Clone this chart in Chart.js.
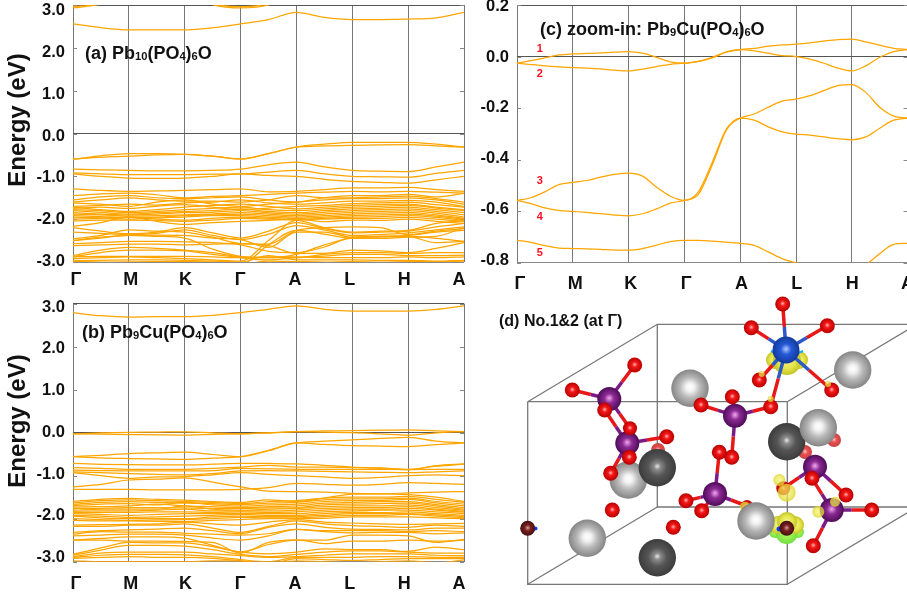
<!DOCTYPE html>
<html>
<head>
<meta charset="utf-8">
<title>Band structures of Pb10(PO4)6O and Pb9Cu(PO4)6O</title>
<script src="https://cdn.jsdelivr.net/npm/chart.js@4"></script>
<style>
  html, body { margin: 0; background: #fff; overflow: hidden; width: 907px; height: 599px; }
  canvas { position: absolute; }
</style>
</head>
<body>
<canvas id="panelA" width="470" height="295" style="left:0;top:0"></canvas>
<canvas id="panelB" width="470" height="304" style="left:0;top:295px"></canvas>
<canvas id="panelC" width="440" height="295" style="left:475px;top:0"></canvas>
<canvas id="panelD" width="417" height="304" style="left:490px;top:295px"></canvas>
<script>
// k-path
const pathLabels = ['Γ', 'M', 'K', 'Γ', 'A', 'L', 'H', 'A'];
const pathTicks = [0, 1, 2, 3, 4, 5, 6, 7];
const kHalf = [0, 0.5, 1, 1.5, 2, 2.5, 3, 3.5, 4, 4.5, 5, 5.5, 6, 6.5, 7];
const kQuarter = [0, 0.25, 0.5, 0.75, 1, 1.25, 1.5, 1.75, 2, 2.25, 2.5, 2.75, 3, 3.25, 3.5, 3.75, 4,
  4.25, 4.5, 4.75, 5, 5.25, 5.5, 5.75, 6, 6.25, 6.5, 6.75, 7];
const energyTicks = [-3, -2, -1, 0, 1, 2, 3];
const zoomTicks = [-0.8, -0.6, -0.4, -0.2, 0, 0.2];

// (a) Pb10(PO4)6O, read at kHalf
const bandsA = [
  [2.56, 2.47, 2.42, 2.42, 2.42, 2.47, 2.56, 2.66, 2.83, 2.71, 2.66, 2.66, 2.67, 2.70, 2.83],
  [2.93, 3.02, 3.2, 3.3, 3.3, 3.01, 2.93, 3.0, 3.3, 3.3, 3.3, 3.3, 3.3, 3.3, 3.3],
  [2.96, 3.03, 3.25, 3.3, 3.3, 3.03, 2.96, 3.03, 3.3, 3.3, 3.3, 3.3, 3.3, 3.3, 3.3],
  [-0.60, -0.52, -0.47, -0.47, -0.486, -0.53, -0.595, -0.47, -0.315, -0.25, -0.205, -0.205, -0.205, -0.25, -0.315],
  [-0.60, -0.55, -0.53, -0.50, -0.49, -0.53, -0.595, -0.47, -0.32, -0.29, -0.275, -0.265, -0.26, -0.29, -0.32],
  [-0.83, -0.85, -0.86, -0.87, -0.87, -0.86, -0.83, -0.73, -0.67, -0.78, -0.86, -0.88, -0.89, -0.78, -0.67],
  [-0.92, -0.94, -0.96, -0.96, -0.96, -0.95, -0.945, -0.90, -0.86, -0.94, -1.0, -1.01, -1.02, -0.93, -0.86],
  [-0.945, -1.0, -1.04, -1.05, -1.04, -1.0, -0.945, -0.98, -1.0, -1.07, -1.12, -1.14, -1.16, -1.08, -1.0],
  [-1.29, -1.33, -1.35, -1.34, -1.33, -1.31, -1.29, -1.36, -1.35, -1.31, -1.27, -1.27, -1.26, -1.31, -1.35],
  [-1.45, -1.41, -1.39, -1.43, -1.50, -1.47, -1.45, -1.42, -1.39, -1.37, -1.35, -1.36, -1.35, -1.37, -1.39],
  [-1.55, -1.48, -1.45, -1.50, -1.52, -1.50, -1.48, -1.55, -1.60, -1.50, -1.45, -1.45, -1.42, -1.48, -1.40],
  [-1.60, -1.55, -1.50, -1.55, -1.58, -1.58, -1.60, -1.55, -1.45, -1.50, -1.50, -1.48, -1.46, -1.52, -1.60],
  [-1.62, -1.65, -1.70, -1.60, -1.55, -1.65, -1.70, -1.65, -1.60, -1.55, -1.52, -1.52, -1.50, -1.55, -1.65],
  [-1.70, -1.68, -1.65, -1.67, -1.62, -1.60, -1.55, -1.62, -1.65, -1.62, -1.58, -1.58, -1.56, -1.60, -1.70],
  [-1.75, -1.72, -1.75, -1.70, -1.66, -1.72, -1.78, -1.74, -1.70, -1.68, -1.64, -1.62, -1.60, -1.66, -1.72],
  [-1.72, -1.78, -1.82, -1.78, -1.72, -1.68, -1.65, -1.70, -1.76, -1.72, -1.68, -1.66, -1.65, -1.72, -1.78],
  [-1.78, -1.80, -1.85, -1.82, -1.78, -1.75, -1.72, -1.78, -1.80, -1.76, -1.72, -1.70, -1.68, -1.74, -1.80],
  [-1.80, -1.84, -1.88, -1.85, -1.82, -1.80, -1.76, -1.82, -1.85, -1.80, -1.76, -1.74, -1.72, -1.78, -1.85],
  [-1.85, -1.88, -1.90, -1.88, -1.85, -1.84, -1.80, -1.85, -1.88, -1.84, -1.80, -1.78, -1.76, -1.82, -1.90],
  [-1.88, -1.90, -1.93, -1.92, -1.90, -1.88, -1.85, -1.88, -1.92, -1.88, -1.84, -1.82, -1.80, -1.86, -1.95],
  [-1.92, -1.94, -1.96, -1.95, -1.92, -1.90, -1.88, -1.92, -1.95, -1.92, -1.88, -1.86, -1.84, -1.90, -1.98],
  [-1.95, -1.97, -2.00, -1.97, -1.95, -1.92, -1.92, -1.95, -1.98, -1.95, -1.92, -1.90, -1.88, -1.93, -2.0],
  [-2.00, -1.98, -1.95, -2.0, -2.02, -1.98, -1.95, -1.98, -2.02, -1.98, -1.95, -1.94, -1.92, -1.96, -2.03],
  [-2.04, -2.02, -2.02, -2.03, -2.05, -2.02, -1.98, -2.0, -2.0, -2.0, -1.98, -1.98, -1.96, -2.0, -2.05],
  [-2.17, -2.08, -1.95, -2.05, -2.12, -2.08, -2.05, -2.03, -2.0, -2.06, -2.02, -2.03, -2.0, -2.05, -2.10],
  [-2.20, -2.28, -2.34, -2.30, -2.20, -2.32, -2.44, -2.28, -2.08, -2.22, -2.32, -2.30, -2.28, -2.18, -2.10],
  [-2.30, -2.33, -2.36, -2.33, -2.25, -2.38, -2.48, -2.35, -2.15, -2.25, -2.38, -2.36, -2.32, -2.25, -2.18],
  [-2.46, -2.38, -2.25, -2.28, -2.30, -2.42, -2.57, -2.58, -2.26, -2.20, -2.18, -2.20, -2.36, -2.28, -2.22],
  [-2.50, -2.42, -2.38, -2.37, -2.38, -2.44, -2.48, -2.66, -2.30, -2.30, -2.42, -2.40, -2.38, -2.30, -2.26],
  [-2.50, -2.44, -2.38, -2.40, -2.44, -2.70, -2.87, -2.90, -2.82, -2.60, -2.44, -2.42, -2.41, -2.55, -2.52],
  [-2.57, -2.55, -2.52, -2.52, -2.53, -2.55, -2.60, -2.75, -2.78, -2.65, -2.42, -2.40, -2.40, -2.45, -2.52],
  [-2.62, -2.60, -2.58, -2.58, -2.60, -2.58, -2.57, -2.62, -2.80, -2.80, -2.72, -2.74, -2.78, -2.68, -2.55],
  [-2.85, -2.72, -2.66, -2.68, -2.72, -2.78, -2.88, -2.90, -2.90, -2.82, -2.78, -2.78, -2.80, -2.78, -2.78],
  [-2.88, -2.78, -2.72, -2.72, -2.74, -2.82, -2.90, -2.95, -2.90, -2.86, -2.82, -2.82, -2.85, -2.85, -2.84],
  [-2.88, -2.87, -2.87, -2.87, -2.87, -2.88, -2.90, -2.88, -2.88, -2.90, -2.90, -2.90, -2.88, -2.90, -2.88],
  [-2.92, -2.90, -2.88, -2.90, -2.92, -2.95, -2.98, -2.50, -2.03, -2.20, -2.30, -2.28, -2.26, -2.10, -2.03],
  [-2.97, -2.96, -2.95, -2.95, -2.96, -2.98, -3.0, -2.85, -2.95, -2.95, -2.95, -2.96, -2.96, -2.98, -2.96],
  [-3.05, -3.02, -3.0, -3.0, -3.02, -3.05, -3.05, -2.60, -2.26, -2.35, -2.45, -2.45, -2.42, -2.40, -2.20],
  [-2.99, -3.0, -3.0, -2.99, -2.99, -3.0, -3.05, -2.98, -2.99, -3.0, -2.99, -3.0, -2.99, -2.99, -2.98]
];

// (b) Pb9Cu(PO4)6O, read at kHalf
const bandsB = [
  [2.79, 2.72, 2.69, 2.70, 2.70, 2.73, 2.79, 2.87, 2.95, 2.87, 2.83, 2.83, 2.83, 2.87, 2.95],
  [-0.026, -0.005, 0.01, 0.014, 0.02, -0.003, -0.026, -0.003, 0.027, 0.04, 0.048, 0.06, 0.068, 0.044, 0.027],
  [-0.026, -0.036, -0.043, -0.048, -0.056, -0.039, -0.026, -0.003, 0.027, 0.013, 0, -0.026, -0.056, -0.003, 0.027],
  [-0.558, -0.525, -0.488, -0.468, -0.452, -0.507, -0.558, -0.41, -0.239, -0.197, -0.165, -0.132, -0.109, -0.197, -0.239],
  [-0.558, -0.587, -0.601, -0.61, -0.618, -0.591, -0.558, -0.42, -0.239, -0.273, -0.301, -0.312, -0.323, -0.278, -0.239],
  [-0.713, -0.734, -0.745, -0.748, -0.751, -0.732, -0.713, -0.716, -0.725, -0.758, -0.801, -0.83, -0.86, -0.765, -0.725],
  [-0.81, -0.83, -0.85, -0.85, -0.85, -0.83, -0.80, -0.76, -0.80, -0.80, -0.81, -0.82, -0.85, -0.78, -0.73],
  [-0.87, -0.88, -0.89, -0.89, -0.89, -0.88, -0.83, -0.84, -0.85, -0.85, -0.85, -0.85, -0.86, -0.85, -0.85],
  [-0.91, -0.93, -0.95, -0.97, -0.98, -0.95, -0.89, -0.88, -0.89, -0.90, -0.91, -0.92, -0.93, -0.91, -0.89],
  [-0.93, -1.0, -1.06, -1.03, -1.02, -0.98, -0.93, -0.97, -1.0, -1.03, -1.06, -1.04, -1.0, -0.98, -1.0],
  [-1.26, -1.20, -1.10, -1.08, -1.05, -1.15, -1.26, -1.36, -1.37, -1.38, -1.41, -1.42, -1.40, -1.38, -1.37],
  [-1.32, -1.32, -1.32, -1.33, -1.33, -1.33, -1.32, -1.28, -1.18, -1.2, -1.22, -1.20, -1.16, -1.18, -1.2],
  [-1.60, -1.55, -1.53, -1.55, -1.57, -1.60, -1.62, -1.56, -1.60, -1.52, -1.43, -1.42, -1.44, -1.50, -1.60],
  [-1.63, -1.58, -1.56, -1.58, -1.60, -1.62, -1.65, -1.60, -1.58, -1.52, -1.50, -1.50, -1.48, -1.55, -1.62],
  [-1.67, -1.62, -1.60, -1.62, -1.64, -1.65, -1.67, -1.64, -1.62, -1.56, -1.54, -1.54, -1.52, -1.60, -1.66],
  [-1.70, -1.66, -1.65, -1.68, -1.62, -1.68, -1.71, -1.68, -1.66, -1.60, -1.58, -1.58, -1.55, -1.63, -1.70],
  [-1.73, -1.72, -1.70, -1.66, -1.70, -1.72, -1.74, -1.72, -1.70, -1.64, -1.62, -1.60, -1.60, -1.67, -1.74],
  [-1.76, -1.76, -1.74, -1.74, -1.75, -1.76, -1.76, -1.75, -1.74, -1.68, -1.66, -1.65, -1.64, -1.70, -1.78],
  [-1.80, -1.78, -1.78, -1.78, -1.70, -1.78, -1.80, -1.78, -1.76, -1.72, -1.70, -1.70, -1.68, -1.74, -1.80],
  [-1.83, -1.82, -1.82, -1.80, -1.78, -1.82, -1.82, -1.82, -1.80, -1.76, -1.74, -1.74, -1.72, -1.78, -1.83],
  [-1.86, -1.85, -1.85, -1.84, -1.84, -1.85, -1.84, -1.85, -1.84, -1.80, -1.78, -1.78, -1.76, -1.80, -1.85],
  [-1.88, -1.90, -1.92, -1.90, -1.88, -1.88, -1.88, -1.88, -1.88, -1.84, -1.82, -1.80, -1.80, -1.84, -1.88],
  [-1.92, -1.94, -1.97, -1.96, -1.94, -1.92, -1.90, -1.92, -1.92, -1.88, -1.85, -1.86, -1.84, -1.88, -1.92],
  [-1.94, -1.98, -2.0, -2.0, -2.0, -1.96, -1.94, -1.95, -1.95, -1.92, -1.88, -1.88, -1.88, -1.91, -1.95],
  [-2.0, -2.02, -2.04, -2.03, -2.02, -2.0, -1.97, -1.98, -1.98, -1.95, -1.92, -1.92, -1.90, -1.94, -1.98],
  [-2.04, -2.05, -2.05, -2.06, -2.07, -2.04, -2.02, -2.0, -2.0, -1.99, -1.96, -1.96, -1.96, -1.98, -2.0],
  [-2.15, -2.14, -2.13, -2.12, -2.08, -2.12, -2.15, -2.08, -2.02, -2.08, -2.10, -2.12, -2.13, -2.12, -2.11],
  [-2.18, -2.18, -2.15, -2.15, -2.12, -2.22, -2.32, -2.18, -2.05, -2.12, -2.16, -2.18, -2.2, -2.15, -2.18],
  [-2.32, -2.28, -2.26, -2.24, -2.22, -2.28, -2.35, -2.2, -2.12, -2.2, -2.24, -2.25, -2.26, -2.22, -2.22],
  [-2.36, -2.30, -2.31, -2.31, -2.34, -2.36, -2.38, -2.35, -2.25, -2.28, -2.28, -2.28, -2.30, -2.28, -2.30],
  [-2.40, -2.38, -2.36, -2.36, -2.38, -2.45, -2.50, -2.40, -2.25, -2.30, -2.33, -2.32, -2.32, -2.35, -2.33],
  [-2.50, -2.46, -2.42, -2.42, -2.45, -2.62, -2.77, -2.60, -2.50, -2.50, -2.38, -2.38, -2.40, -2.55, -2.48],
  [-2.50, -2.50, -2.52, -2.52, -2.53, -2.55, -2.80, -2.55, -2.49, -2.58, -2.52, -2.52, -2.50, -2.52, -2.50],
  [-2.83, -2.68, -2.55, -2.56, -2.56, -2.65, -2.78, -2.82, -2.78, -2.70, -2.72, -2.72, -2.76, -2.66, -2.72],
  [-2.85, -2.73, -2.62, -2.62, -2.64, -2.72, -2.83, -2.88, -2.83, -2.78, -2.75, -2.75, -2.78, -2.80, -2.80],
  [-2.88, -2.80, -2.78, -2.78, -2.78, -2.82, -2.86, -2.90, -2.88, -2.85, -2.82, -2.82, -2.82, -2.85, -2.86],
  [-2.90, -2.85, -2.83, -2.83, -2.84, -2.88, -2.95, -3.0, -2.9, -2.90, -2.90, -2.88, -2.88, -2.90, -2.90],
  [-2.92, -2.90, -2.88, -2.90, -2.90, -2.92, -2.98, -3.05, -2.93, -2.95, -2.97, -2.95, -2.93, -2.93, -2.93],
  [-2.98, -3.0, -3.0, -3.0, -3.0, -2.98, -2.98, -3.05, -2.98, -3.0, -3.02, -3.0, -2.98, -3.02, -2.96]
];

// (c) zoom-in, read at kQuarter
const bandsC = [
  [-0.026, -0.016, -0.005, 0.006, 0.010, 0.012, 0.014, 0.017, 0.019, 0.013, -0.003, -0.021, -0.026, -0.019, -0.005, 0.017, 0.027,
    0.032, 0.040, 0.045, 0.048, 0.053, 0.060, 0.066, 0.068, 0.057, 0.044, 0.032, 0.027],
  [-0.026, -0.031, -0.036, -0.040, -0.043, -0.045, -0.048, -0.053, -0.056, -0.049, -0.039, -0.030, -0.026, -0.019, -0.003, 0.018, 0.027,
    0.022, 0.013, 0.004, 0, -0.010, -0.026, -0.045, -0.056, -0.036, -0.003, 0.019, 0.027],
  [-0.558, -0.548, -0.525, -0.497, -0.488, -0.481, -0.468, -0.457, -0.452, -0.464, -0.507, -0.542, -0.558, -0.525, -0.41, -0.282, -0.239,
    -0.223, -0.197, -0.173, -0.165, -0.152, -0.132, -0.113, -0.109, -0.139, -0.197, -0.231, -0.239],
  [-0.558, -0.571, -0.587, -0.597, -0.601, -0.605, -0.610, -0.615, -0.618, -0.610, -0.591, -0.569, -0.558, -0.535, -0.42, -0.287, -0.239,
    -0.247, -0.273, -0.292, -0.301, -0.305, -0.312, -0.319, -0.323, -0.312, -0.278, -0.247, -0.239],
  [-0.713, -0.721, -0.734, -0.743, -0.745, -0.746, -0.748, -0.751, -0.751, -0.745, -0.732, -0.718, -0.713, -0.713, -0.716, -0.720, -0.725,
    -0.733, -0.758, -0.784, -0.801, -0.81, -0.83, -0.85, -0.86, -0.81, -0.765, -0.729, -0.725]
];

const bandNumbers = ['1', '2', '3', '4', '5'];
const bandNumberEnergies = [0.028, -0.066, -0.483, -0.623, -0.763];

// panel titles, plain and subscript parts in turn
const titleA = ['(a) Pb', '10', '(PO', '4', ')', '6', 'O'];
const titleB = ['(b) Pb', '9', 'Cu(PO', '4', ')', '6', 'O'];
const titleC = ['(c) zoom-in: Pb', '9', 'Cu(PO', '4', ')', '6', 'O'];
const titleD = ['(d) No.1&2 (at Γ)'];

// (d) structure, atoms
const cellEdges = [
  [[527.7, 401.7], [787.3, 401.7], [787.3, 584.3], [527.7, 584.3], [527.7, 401.7]],
  [[527.7, 401.7], [657.3, 324.3], [917, 324.3], [787.3, 401.7]],
  [[657.3, 324.3], [657.3, 507], [917, 507], [787.3, 584.3]],
  [[527.7, 584.3], [657.3, 507]]
];
const fadedOxygen = [
  { x: 658, y: 450, r: 7 }, { x: 805, y: 452, r: 7 }, { x: 834, y: 440, r: 7 }
];
const leadBack = [
  { x: 690, y: 388.3, r: 18.7 }, { x: 852.7, y: 370, r: 18.7 }, { x: 628.3, y: 480, r: 18.7 }
];
const leadDarkBack = [{ x: 786.7, y: 441.7, r: 18.7 }];
const isoLime = [
  { x: 775, y: 532, r: 6 }, { x: 798, y: 532, r: 6 }, { x: 786.7, y: 533, r: 11 }
];
const isoBack = [
  { x: 775, y: 360, r: 9 }, { x: 799, y: 360, r: 9 }, { x: 787, y: 361, r: 14 },
  { x: 778, y: 525, r: 9 }, { x: 795, y: 525, r: 9 }, { x: 787, y: 522, r: 10 }
];
const bluePatches = [{ x: 779, y: 529, r: 2.5 }, { x: 535.5, y: 528.5, r: 2 }];
const phosphorus = [
  { x: 609.3, y: 399, r: 12 }, { x: 627.3, y: 443.3, r: 12 }, { x: 735, y: 415.7, r: 12 },
  { x: 815, y: 466.7, r: 12 }, { x: 831.7, y: 510, r: 12 }, { x: 715, y: 494, r: 12 }
];
const copper = [{ x: 786, y: 350, r: 13.5 }];
const oxygen = [
  { x: 782.7, y: 304, r: 7.5 }, { x: 751.3, y: 327.7, r: 7.5 }, { x: 827.3, y: 325.7, r: 7.5 },
  { x: 759.3, y: 380, r: 7.5 }, { x: 831.7, y: 390, r: 7.5 }, { x: 770.7, y: 406.7, r: 7.5 },
  { x: 732.3, y: 396.7, r: 7.5 }, { x: 701, y: 405, r: 7.5 }, { x: 634.7, y: 365, r: 7.5 },
  { x: 572.3, y: 390, r: 7.5 }, { x: 604.7, y: 410, r: 7.5 }, { x: 630, y: 428.3, r: 7 },
  { x: 666.7, y: 436.7, r: 7.5 }, { x: 610.7, y: 473.3, r: 7.5 }, { x: 629.3, y: 457.3, r: 7.5 },
  { x: 719.3, y: 452.3, r: 7.5 }, { x: 731.7, y: 457.3, r: 7.5 }, { x: 686, y: 500.7, r: 7.5 },
  { x: 701.7, y: 510.7, r: 7.5 }, { x: 612.3, y: 510, r: 7.5 }, { x: 673.3, y: 527.3, r: 7.5 },
  { x: 812, y: 478.3, r: 7.5 }, { x: 783.3, y: 488.3, r: 7 }, { x: 846, y: 495, r: 7.5 },
  { x: 871.7, y: 510, r: 7.5 }, { x: 813.3, y: 545.7, r: 7.5 }, { x: 747, y: 506, r: 6 }
];
const isoFront = [
  { x: 761.7, y: 374, r: 3 }, { x: 828, y: 384, r: 3 }, { x: 770.7, y: 399, r: 3 },
  { x: 779.3, y: 480, r: 6 }, { x: 786.7, y: 492.7, r: 9 }, { x: 745, y: 506.7, r: 5 },
  { x: 818.3, y: 511.7, r: 6 }, { x: 835, y: 501.7, r: 5 }
];
const leadFront = [
  { x: 818.3, y: 427.7, r: 18.7 }, { x: 587.3, y: 538.3, r: 18.7 }, { x: 756, y: 521, r: 18.7 }
];
const leadDarkFront = [{ x: 657.3, y: 467.7, r: 18.7 }, { x: 657.3, y: 557.7, r: 18.7 }];
const cornerAtoms = [{ x: 527.7, y: 528.3, r: 7.5 }, { x: 786.7, y: 528.3, r: 7.5 }];
const cuRing = [[771, 351], [778, 354], [787, 355], [796, 354], [803, 351]];
// phosphorus index, oxygen index
const poBonds = [
  [0, 8], [0, 9], [0, 11], [1, 10], [1, 12], [1, 13], [1, 14], [2, 6], [2, 7], [2, 5], [2, 16],
  [3, 22], [3, 23], [3, 21], [4, 21], [4, 24], [4, 25], [5, 15], [5, 17], [5, 18], [5, 26]
];
const cuOxygens = [0, 1, 2, 3, 4, 5];

const ORANGE = '#ffa500';
const FONT = '"Liberation Sans", Arial, sans-serif';

// draws the text of a panel, with subscripts
const panelText = {
  id: 'panelText',
  afterDraw(chart, args, opts) {
    const ctx = chart.ctx;
    ctx.save();
    ctx.textBaseline = 'alphabetic';
    ctx.fillStyle = '#111';
    let x = opts.titleX;
    opts.title.forEach((part, i) => {
      const sub = i % 2 === 1;
      ctx.font = `bold ${sub ? opts.titleSize * 0.62 : opts.titleSize}px ${FONT}`;
      ctx.fillText(part, x, opts.titleY + (sub ? 1 : 0));
      x += ctx.measureText(part).width;
    });
    if (opts.yTitle) {
      ctx.translate(opts.yTitleX, opts.yTitleY);
      ctx.rotate(-Math.PI / 2);
      ctx.textAlign = 'center';
      ctx.font = `bold 24px ${FONT}`;
      ctx.fillText(opts.yTitle, 0, 0);
    }
    ctx.restore();
  }
};

// short ticks pointing into the plot on both sides
const innerTicks = {
  id: 'innerTicks',
  beforeDatasetsDraw(chart) {
    const ctx = chart.ctx;
    const { left, right } = chart.chartArea;
    ctx.save();
    ctx.strokeStyle = '#888';
    ctx.lineWidth = 1;
    chart.scales.y.ticks.forEach(t => {
      const y = Math.round(chart.scales.y.getPixelForValue(t.value)) + 0.5;
      ctx.beginPath();
      ctx.moveTo(left, y);
      ctx.lineTo(left + 4, y);
      ctx.moveTo(right - 4, y);
      ctx.lineTo(right, y);
      ctx.stroke();
    });
    ctx.restore();
  }
};

const bandNumberLabels = {
  id: 'bandNumberLabels',
  afterDatasetsDraw(chart) {
    const ctx = chart.ctx;
    ctx.save();
    ctx.fillStyle = '#ff1020';
    ctx.font = `bold 11px ${FONT}`;
    ctx.textAlign = 'center';
    ctx.textBaseline = 'middle';
    bandNumbers.forEach((n, i) => {
      const px = chart.scales.x.getPixelForValue(0.41);
      ctx.fillText(n, px, chart.scales.y.getPixelForValue(bandNumberEnergies[i]));
    });
    ctx.restore();
  }
};

function useTicks(values) {
  return scale => { scale.ticks = values.map(v => ({ value: v })); };
}

function bandChart(id, bands, kValues, cfg) {
  const datasets = bands.map(band => ({
    data: band.map((e, i) => ({ x: kValues[i], y: e })),
    borderColor: ORANGE,
    borderWidth: 1.25,
    pointRadius: 0,
    cubicInterpolationMode: 'monotone'
  }));
  return new Chart(document.getElementById(id), {
    type: 'line',
    data: { datasets },
    plugins: cfg.extraPlugins.concat([innerTicks, panelText]),
    options: {
      responsive: false,
      animation: false,
      devicePixelRatio: 1,
      layout: { autoPadding: false, padding: { top: cfg.top, right: cfg.right, left: 0, bottom: 0 } },
      plugins: { legend: { display: false }, tooltip: { enabled: false }, panelText: cfg.text },
      scales: {
        x: {
          type: 'linear', min: 0, max: 7,
          afterBuildTicks: useTicks(pathTicks),
          ticks: { display: false },
          border: { display: false },
          grid: { color: '#777', lineWidth: 1, tickLength: 0 }
        },
        xLabels: {
          axis: 'x', type: 'linear', position: 'bottom', min: cfg.xLabelMin, max: cfg.xLabelMax,
          afterBuildTicks: useTicks(pathTicks),
          afterFit: s => { s.height = cfg.xHeight; s.paddingLeft = 0; s.paddingRight = 0; },
          ticks: {
            callback: v => pathLabels[v], autoSkip: false, maxRotation: 0, padding: cfg.xPad,
            color: '#111', font: { family: FONT, size: 18, weight: 'bold' }
          },
          border: { display: false },
          grid: { display: false, drawTicks: false }
        },
        y: {
          type: 'linear', min: cfg.yMin, max: cfg.yMax,
          afterBuildTicks: useTicks(cfg.yTicks),
          ticks: { display: false },
          border: { display: false },
          grid: {
            tickLength: 0,
            lineWidth: 1,
            color: c => (c.tick.value === 0 || c.tick.value === cfg.yMax ? '#555'
              : c.tick.value === cfg.yMin ? '#888' : 'rgba(0,0,0,0)')
          }
        },
        yLabels: {
          axis: 'y', type: 'linear', position: 'left', min: cfg.yLabelMin, max: cfg.yLabelMax,
          afterBuildTicks: useTicks(cfg.yTicks),
          afterFit: s => { s.width = cfg.left; s.paddingTop = 0; s.paddingBottom = 0; },
          ticks: {
            callback: v => v.toFixed(1), autoSkip: false, padding: 8,
            color: '#111', font: { family: FONT, size: 16.5, weight: 'bold' }
          },
          border: { display: false },
          grid: { display: false, drawTicks: false }
        }
      }
    }
  });
}

bandChart('panelA', bandsA, kHalf, {
  top: 5, right: 6, left: 73, xHeight: 33, xPad: 7,
  yMin: -3, yMax: 3, yTicks: energyTicks, yLabelMin: -3.014, yLabelMax: 3.134,
  xLabelMin: -0.055, xLabelMax: 7.09, extraPlugins: [],
  text: { title: titleA, titleX: 85, titleY: 58.5, titleSize: 18, yTitle: 'Energy (eV)', yTitleX: 25, yTitleY: 120 }
});

bandChart('panelB', bandsB, kHalf, {
  top: 8.7, right: 6, left: 73, xHeight: 37.3, xPad: 12,
  yMin: -3, yMax: 3, yTicks: energyTicks, yLabelMin: -3.096, yLabelMax: 3.08,
  xLabelMin: -0.055, xLabelMax: 7.09, extraPlugins: [],
  text: { title: titleB, titleX: 82, titleY: 43, titleSize: 18, yTitle: 'Energy (eV)', yTitleX: 25, yTitleY: 126 }
});

bandChart('panelC', bandsC, kQuarter, {
  top: 5, right: 7.4, left: 42, xHeight: 32.3, xPad: 11,
  yMin: -0.8, yMax: 0.2, yTicks: zoomTicks, yLabelMin: -0.81, yLabelMax: 0.2047,
  xLabelMin: -0.054, xLabelMax: 7.0, extraPlugins: [bandNumberLabels],
  text: { title: titleC, titleX: 65, titleY: 34.5, titleSize: 18 }
});

// spheres with a highlight, as the structure viewer shades them
function sphere(stops) {
  return ctx => {
    const flat = stops[stops.length - 2][1];
    if (!ctx.raw) return flat;
    const { x: xs, y: ys } = ctx.chart.scales;
    const px = xs.getPixelForValue(ctx.raw.x);
    const py = ys.getPixelForValue(ctx.raw.y);
    // controllers are reset once before the scales are laid out
    if (!Number.isFinite(px) || !Number.isFinite(py)) return flat;
    const g = ctx.chart.ctx.createRadialGradient(px, py - ctx.raw.r * 0.08, 0, px, py, ctx.raw.r);
    stops.forEach(s => g.addColorStop(s[0], s[1]));
    return g;
  };
}

const shadeLead = [[0, '#ffffff'], [0.22, '#f2f2f2'], [0.55, '#b8b8b8'], [1, '#858585']];
const shadeLeadDark = [[0, '#e6e6e6'], [0.18, '#8a8a8a'], [0.5, '#555555'], [1, '#3c3c3c']];
const shadeOxygen = [[0, '#ffb8b8'], [0.35, '#f41818'], [1, '#b80000']];
const shadeFaded = [[0, '#ffc0c0'], [0.4, '#e85050'], [1, '#c84040']];
const shadePurple = [[0, '#f4a8f0'], [0.4, '#8c2a94'], [1, '#4e0c58']];
const shadeBlue = [[0, '#b0c8ff'], [0.4, '#2458d8'], [1, '#123a98']];
const shadeCorner = [[0, '#d8a0a0'], [0.4, '#7c2020'], [1, '#401010']];
const shadeYellow = [[0, '#f4f48a'], [0.6, '#e4e448'], [1, '#c4c428']];
const shadeLime = [[0, '#b8f860'], [0.5, '#98f050'], [1, '#70e040']];
const shadePatch = [[0, '#1040ff'], [0.5, '#1040ff'], [1, '#1040ff']];
const shadeIsoFront = [[0, 'rgba(244,244,100,0.7)'], [0.5, 'rgba(236,232,80,0.72)'], [1, 'rgba(220,210,40,0.8)']];

function bubbles(data, stops, order) {
  return { type: 'bubble', data, order, backgroundColor: sphere(stops), borderWidth: 0 };
}

function bondHalves(pairs, color, order) {
  const points = [];
  pairs.forEach(([from, to]) => {
    points.push({ x: from.x, y: from.y });
    points.push({ x: (from.x + to.x) / 2, y: (from.y + to.y) / 2 });
    points.push({ x: null, y: null });
  });
  return { type: 'line', data: points, order, borderColor: color, borderWidth: 3.5, pointRadius: 0, spanGaps: false };
}

const poPairs = poBonds.map(([p, o]) => [phosphorus[p], oxygen[o]]);
const cuPairs = cuOxygens.map(o => [copper[0], oxygen[o]]);

const cellDatasets = cellEdges.map(edge => ({
  type: 'line',
  data: edge.map(p => ({ x: p[0], y: p[1] })),
  order: 20,
  borderColor: '#777',
  borderWidth: 1.3,
  pointRadius: 0
}));

new Chart(document.getElementById('panelD'), {
  type: 'bubble',
  data: {
    datasets: cellDatasets.concat([
      bubbles(fadedOxygen, shadeFaded, 19),
      bubbles(leadBack, shadeLead, 18),
      bubbles(leadDarkBack, shadeLeadDark, 17),
      bubbles(isoLime, shadeLime, 16),
      bubbles(isoBack, shadeYellow, 15),
      bubbles(bluePatches, shadePatch, 14),
      bondHalves(poPairs.map(p => [p[1], p[0]]), '#e81818', 13),
      bondHalves(poPairs, '#7c1a88', 12),
      bondHalves(cuPairs.map(p => [p[1], p[0]]), '#e81818', 11),
      bondHalves(cuPairs, '#2c58c8', 10),
      {
        type: 'line',
        data: cuRing.map(p => ({ x: p[0], y: p[1] })),
        order: 9,
        borderColor: '#10a8ff',
        borderWidth: 2,
        pointRadius: 0,
        tension: 0.4
      },
      bubbles(copper, shadeBlue, 8),
      bubbles(phosphorus, shadePurple, 7),
      bubbles(oxygen, shadeOxygen, 6),
      bubbles(isoFront, shadeIsoFront, 5),
      bubbles(leadFront, shadeLead, 4),
      bubbles(leadDarkFront, shadeLeadDark, 3),
      bubbles(cornerAtoms, shadeCorner, 2)
    ])
  },
  plugins: [panelText],
  options: {
    responsive: false,
    animation: false,
    devicePixelRatio: 1,
    layout: { autoPadding: false, padding: 0 },
    plugins: {
      legend: { display: false },
      tooltip: { enabled: false },
      panelText: { title: titleD, titleX: 9, titleY: 31, titleSize: 16 }
    },
    scales: {
      x: { type: 'linear', min: 490, max: 907, display: false },
      y: { type: 'linear', min: 295, max: 599, reverse: true, display: false }
    }
  }
});
</script>
</body>
</html>
